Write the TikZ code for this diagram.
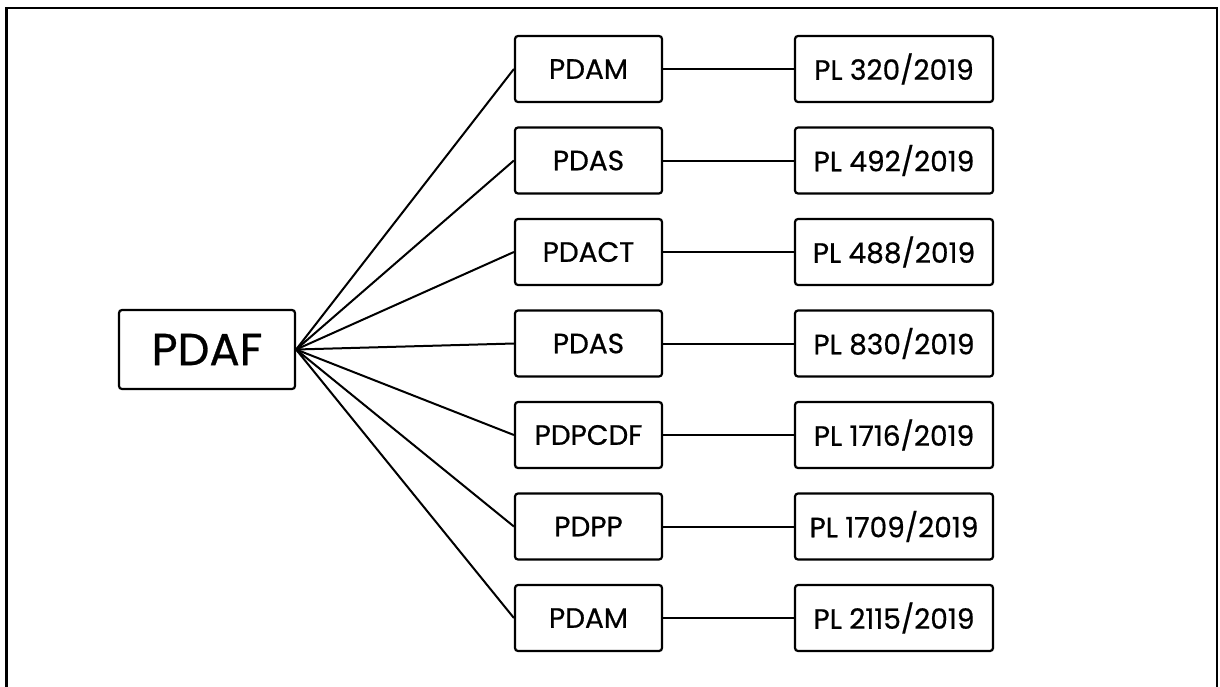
\documentclass[tikz,border=0pt]{standalone}
\usepackage{fontspec}
\setmainfont{Poppins}[FakeBold=0.6]
\usetikzlibrary{positioning}

\begin{document}
\begin{tikzpicture}[
    x=1pt, y=-1pt,
    node distance=91.5pt,
    box/.style={rectangle, draw, line width=2.2pt, rounded corners=3pt, inner sep=0pt, minimum height=66pt, font=\fontsize{28}{32}\selectfont},
    plan/.style={box, minimum width=147pt},
    law/.style={box, minimum width=198pt},
    link/.style={line width=2pt}
]
    \useasboundingbox (0,0) rectangle (1220,686);
    \clip (0,0) rectangle (1220,686);
    % Frame
    \draw[line width=2.5pt] (6.5,8) rectangle (1217,720);
    % Root
    \node[box, minimum width=176pt, minimum height=79pt, font=\fontsize{45}{50}\selectfont] (pdaf) at (207,349.5) {PDAF};
    % Plans
    \node[plan] (p1) at (588.5,69) {PDAM};
    \node[plan, below of=p1] (p2) {PDAS};
    \node[plan, below of=p2] (p3) {PDACT};
    \node[plan, below of=p3] (p4) {PDAS};
    \node[plan, below of=p4] (p5) {PDPCDF};
    \node[plan, below of=p5] (p6) {PDPP};
    \node[plan, below of=p6] (p7) {PDAM};
    % Laws
    \node[law, right of=p1, xshift=214pt] (l1) {PL 320/2019};
    \node[law, right of=p2, xshift=214pt] (l2) {PL 492/2019};
    \node[law, right of=p3, xshift=214pt] (l3) {PL 488/2019};
    \node[law, right of=p4, xshift=214pt] (l4) {PL 830/2019};
    \node[law, right of=p5, xshift=214pt] (l5) {PL 1716/2019};
    \node[law, right of=p6, xshift=214pt] (l6) {PL 1709/2019};
    \node[law, right of=p7, xshift=214pt] (l7) {PL 2115/2019};
    % Links
    \draw[link] (pdaf.east) -- (p1.west);
    \draw[link] (pdaf.east) -- (p2.west);
    \draw[link] (pdaf.east) -- (p3.west);
    \draw[link] (pdaf.east) -- (p4.west);
    \draw[link] (pdaf.east) -- (p5.west);
    \draw[link] (pdaf.east) -- (p6.west);
    \draw[link] (pdaf.east) -- (p7.west);
    \draw[link] (p1) -- (l1);
    \draw[link] (p2) -- (l2);
    \draw[link] (p3) -- (l3);
    \draw[link] (p4) -- (l4);
    \draw[link] (p5) -- (l5);
    \draw[link] (p6) -- (l6);
    \draw[link] (p7) -- (l7);
\end{tikzpicture}
\end{document}
